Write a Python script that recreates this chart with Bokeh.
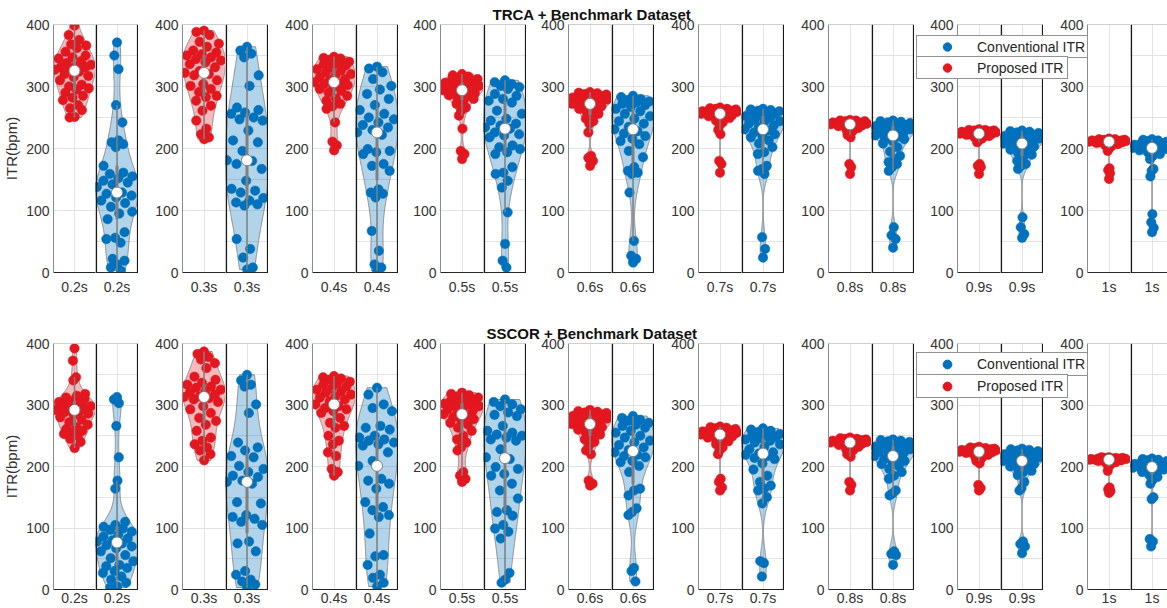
import numpy as np
from bokeh.plotting import figure
from bokeh.models import (Range1d, FixedTicker, Span, Legend, LegendItem, GridBox)
from bokeh.embed import file_html
from bokeh.resources import INLINE

# ---------------- text ----------------
durations = ["0.2s", "0.3s", "0.4s", "0.5s", "0.6s", "0.7s", "0.8s", "0.9s", "1s"]
row_titles = ["TRCA + Benchmark Dataset", "SSCOR + Benchmark Dataset"]
legend_labels = ["Conventional ITR", "Proposed ITR"]
y_label = "ITR(bpm)"
y_ticks = [0, 100, 200, 300, 400]
y_ticks_right = [0, 50, 100, 150, 200, 250, 300, 350, 400]

# ---------------- data: TRCA, proposed ITR ----------------
trca_prop_02 = [398, 383, 375, 368, 366, 362, 356, 350, 347, 345, 341, 338, 335, 333, 331, 331, 329, 327, 324, 320, 317, 315, 310, 303, 300, 297, 295, 290, 285, 282, 278, 270, 265, 262, 251, 250]
trca_prop_03 = [390, 388, 383, 372, 369, 364, 358, 355, 352, 350, 347, 344, 342, 339, 336, 331, 325, 322, 320, 318, 310, 304, 301, 296, 291, 285, 283, 277, 269, 261, 245, 232, 223, 218, 215]
trca_prop_04 = [348, 346, 345, 343, 340, 338, 336, 334, 331, 328, 326, 323, 320, 318, 315, 312, 310, 307, 305, 304, 302, 299, 296, 293, 290, 285, 281, 277, 272, 268, 264, 242, 211, 205, 197]
trca_prop_05 = [320, 318, 316, 314, 312, 310, 310, 309, 307, 306, 304, 302, 301, 300, 298, 296, 295, 294, 293, 291, 289, 288, 286, 285, 283, 280, 277, 272, 266, 261, 253, 232, 196, 191, 183]
trca_prop_06 = [291, 290, 289, 288, 287, 286, 285, 284, 283, 282, 281, 280, 279, 278, 277, 276, 274, 272, 271, 270, 268, 266, 264, 262, 260, 256, 252, 248, 244, 240, 226, 188, 185, 180, 172]
trca_prop_07 = [266, 265, 264, 264, 263, 262, 262, 261, 261, 260, 260, 259, 259, 258, 258, 257, 257, 256, 256, 255, 254, 253, 252, 251, 250, 249, 247, 245, 242, 237, 230, 223, 180, 175, 161]
trca_prop_08 = [246, 245, 245, 244, 244, 243, 243, 242, 242, 242, 241, 241, 240, 240, 240, 239, 239, 239, 238, 238, 237, 237, 236, 235, 234, 233, 232, 230, 228, 225, 222, 218, 175, 170, 159]
trca_prop_09 = [231, 230, 230, 229, 229, 228, 228, 228, 227, 227, 227, 226, 226, 226, 225, 225, 225, 224, 224, 224, 223, 223, 222, 222, 221, 220, 219, 218, 216, 213, 210, 175, 172, 170, 159]
trca_prop_10 = [216, 215, 215, 214, 214, 214, 213, 213, 213, 213, 212, 212, 212, 212, 211, 211, 211, 211, 210, 210, 210, 209, 209, 208, 208, 207, 206, 205, 203, 200, 196, 168, 165, 160, 151]

# ---------------- data: TRCA, conventional ITR ----------------
trca_conv_02 = [371, 350, 328, 270, 242, 213, 210, 207, 202, 172, 161, 159, 155, 152, 148, 145, 142, 138, 129, 127, 124, 121, 116, 112, 106, 98, 95, 86, 65, 56, 54, 48, 22, 19, 13, 8, 3]
trca_conv_03 = [364, 358, 353, 347, 318, 301, 266, 262, 258, 256, 250, 247, 245, 229, 213, 210, 196, 181, 180, 175, 167, 148, 135, 132, 129, 120, 116, 113, 110, 108, 54, 38, 24, 8, 5]
trca_conv_04 = [332, 329, 323, 312, 301, 295, 288, 280, 270, 262, 256, 250, 247, 242, 238, 234, 230, 226, 222, 199, 196, 194, 191, 175, 172, 164, 134, 129, 127, 121, 67, 35, 13, 8, 3]
trca_conv_05 = [310, 307, 304, 301, 299, 296, 288, 285, 280, 277, 274, 261, 256, 248, 245, 240, 237, 234, 232, 226, 223, 221, 218, 205, 202, 199, 194, 191, 170, 161, 159, 148, 137, 97, 46, 19, 8]
trca_conv_06 = [285, 283, 280, 278, 276, 274, 272, 270, 267, 264, 260, 256, 252, 248, 244, 240, 235, 231, 228, 224, 220, 216, 212, 207, 196, 186, 170, 164, 161, 159, 129, 51, 27, 22, 16]
trca_conv_07 = [264, 263, 262, 261, 260, 258, 257, 256, 254, 252, 249, 246, 244, 243, 240, 237, 234, 231, 229, 226, 223, 220, 218, 213, 208, 202, 194, 191, 172, 167, 164, 159, 57, 38, 24]
trca_conv_08 = [245, 244, 243, 242, 241, 240, 239, 238, 237, 236, 235, 233, 231, 229, 227, 225, 223, 221, 219, 217, 215, 212, 208, 202, 195, 188, 183, 178, 175, 170, 164, 73, 60, 54, 40]
trca_conv_09 = [229, 228, 227, 226, 225, 224, 223, 222, 221, 220, 219, 218, 216, 214, 212, 210, 209, 208, 207, 205, 203, 200, 198, 196, 193, 190, 186, 180, 175, 172, 167, 89, 73, 62, 56]
trca_conv_10 = [215, 214, 213, 212, 211, 210, 209, 208, 207, 206, 205, 205, 204, 203, 203, 202, 202, 201, 201, 200, 199, 198, 197, 195, 193, 191, 188, 183, 167, 164, 155, 94, 81, 72, 65]

# ---------------- data: SSCOR, proposed ITR ----------------
sscor_prop_02 = [392, 372, 345, 340, 318, 315, 312, 310, 307, 305, 302, 300, 298, 296, 295, 294, 293, 292, 290, 288, 286, 284, 280, 276, 272, 268, 264, 261, 258, 256, 253, 250, 245, 240, 230]
sscor_prop_03 = [387, 383, 378, 374, 368, 360, 346, 341, 336, 333, 330, 328, 325, 322, 320, 317, 314, 313, 311, 309, 305, 298, 293, 287, 279, 274, 268, 258, 247, 242, 236, 231, 226, 220, 210]
sscor_prop_04 = [347, 345, 343, 341, 338, 335, 333, 330, 327, 325, 322, 320, 317, 314, 312, 309, 306, 301, 298, 295, 293, 290, 287, 279, 271, 266, 263, 250, 242, 236, 223, 217, 196, 191, 185]
sscor_prop_05 = [320, 318, 316, 314, 312, 310, 308, 306, 304, 302, 301, 299, 298, 296, 293, 290, 288, 285, 283, 280, 277, 274, 271, 268, 263, 258, 250, 244, 239, 231, 226, 191, 185, 180, 175]
sscor_prop_06 = [292, 290, 289, 288, 287, 286, 285, 284, 283, 282, 280, 279, 278, 276, 275, 273, 271, 269, 268, 266, 264, 262, 260, 258, 255, 252, 248, 244, 240, 234, 226, 220, 177, 172, 169]
sscor_prop_07 = [265, 264, 263, 262, 261, 260, 260, 259, 258, 257, 256, 255, 255, 254, 253, 253, 252, 252, 251, 250, 249, 248, 247, 245, 243, 241, 239, 236, 231, 226, 220, 180, 175, 166, 161]
sscor_prop_08 = [247, 246, 245, 245, 244, 244, 243, 243, 242, 242, 241, 241, 240, 240, 240, 239, 239, 239, 238, 238, 237, 236, 235, 234, 233, 232, 230, 228, 226, 224, 220, 216, 175, 170, 161]
sscor_prop_09 = [232, 231, 230, 230, 229, 229, 228, 228, 227, 227, 227, 226, 226, 225, 225, 225, 224, 224, 224, 223, 223, 222, 222, 221, 220, 219, 218, 216, 214, 212, 209, 205, 170, 165, 161]
sscor_prop_10 = [215, 215, 214, 214, 214, 213, 213, 213, 213, 212, 212, 212, 212, 211, 211, 211, 211, 211, 210, 210, 210, 209, 209, 208, 208, 207, 206, 205, 203, 200, 193, 166, 163, 160, 157]

# ---------------- data: SSCOR, conventional ITR ----------------
sscor_conv_02 = [313, 309, 303, 266, 215, 177, 164, 110, 105, 102, 99, 97, 94, 89, 86, 83, 80, 78, 75, 72, 70, 67, 62, 56, 51, 46, 40, 38, 35, 30, 27, 21, 16, 11, 5, 3]
sscor_conv_03 = [349, 340, 333, 330, 301, 287, 239, 231, 226, 217, 215, 201, 196, 191, 185, 183, 177, 175, 172, 142, 140, 121, 118, 115, 110, 105, 78, 75, 62, 30, 24, 16, 13, 8, 3]
sscor_conv_04 = [328, 317, 301, 295, 290, 266, 263, 260, 250, 247, 244, 242, 239, 236, 234, 223, 209, 201, 180, 177, 172, 164, 142, 134, 129, 121, 118, 91, 56, 54, 40, 24, 19, 11, 5]
sscor_conv_05 = [309, 305, 301, 298, 293, 288, 284, 282, 266, 258, 255, 252, 250, 247, 244, 242, 228, 215, 212, 199, 196, 188, 185, 172, 161, 148, 129, 126, 120, 105, 99, 94, 83, 27, 16, 11]
sscor_conv_06 = [282, 279, 276, 274, 271, 268, 266, 263, 258, 255, 250, 247, 242, 239, 235, 231, 227, 223, 219, 217, 215, 209, 207, 201, 191, 164, 161, 153, 132, 126, 121, 35, 30, 13]
sscor_conv_07 = [262, 260, 258, 256, 253, 252, 250, 248, 246, 244, 242, 239, 236, 232, 228, 223, 221, 219, 217, 214, 212, 205, 195, 185, 175, 169, 164, 161, 150, 140, 46, 43, 21]
sscor_conv_08 = [244, 243, 242, 241, 240, 239, 238, 236, 234, 232, 231, 229, 228, 226, 224, 222, 219, 217, 215, 212, 209, 207, 204, 201, 196, 191, 185, 180, 161, 156, 153, 62, 58, 56, 40]
sscor_conv_09 = [229, 228, 227, 226, 225, 224, 223, 222, 221, 220, 218, 217, 215, 213, 212, 211, 210, 209, 208, 206, 204, 202, 200, 198, 196, 193, 191, 186, 175, 165, 161, 78, 74, 70, 59]
sscor_conv_10 = [213, 212, 211, 210, 209, 208, 207, 206, 205, 204, 203, 202, 201, 200, 200, 199, 199, 198, 197, 196, 195, 193, 191, 189, 186, 183, 178, 172, 150, 147, 82, 78, 70]

proposed = [
    [trca_prop_02, trca_prop_03, trca_prop_04, trca_prop_05, trca_prop_06, trca_prop_07, trca_prop_08, trca_prop_09, trca_prop_10],
    [sscor_prop_02, sscor_prop_03, sscor_prop_04, sscor_prop_05, sscor_prop_06, sscor_prop_07, sscor_prop_08, sscor_prop_09, sscor_prop_10],
]
conventional = [
    [trca_conv_02, trca_conv_03, trca_conv_04, trca_conv_05, trca_conv_06, trca_conv_07, trca_conv_08, trca_conv_09, trca_conv_10],
    [sscor_conv_02, sscor_conv_03, sscor_conv_04, sscor_conv_05, sscor_conv_06, sscor_conv_07, sscor_conv_08, sscor_conv_09, sscor_conv_10],
]

# ---------------- style / layout ----------------
FONT = "Liberation Sans"
RED = "#E3171F"
BLUE = "#0072BD"
EDGE = "#8a8a8a"
BOXC = "#808080"
GRID = "#e3e3e3"
DARK = "#262626"
TXT = "#333333"
SEP = "#1a1a1a"
PANEL_LEFT = [52, 182, 312, 440, 568, 698, 828, 957, 1087]
COLW = 43
W_TOTAL = 1167
ROW_H = [319, 289]
TOP_B = [24, 24]
BOT_B = [47, 18]
XSTAND = [6, 0]
TITLE_LEFT = [491, 485]
LEG_X = 915
LEG_TOP = [[37, 58], [36, 58]]
LEG_H = [21, 22]
HALF = 0.5


def violin(vals, n=240):
    v = np.asarray(vals, float)
    N = len(v)
    med = np.median(v)
    sig = np.median(np.abs(v - med)) / 0.6745
    if sig <= 0:
        sig = max((v.max() - v.min()) / 4.0, 1.0)
    bw = sig * (4.0 / (3.0 * N)) ** 0.2
    ys = np.linspace(v.min(), v.max(), n)
    dens = np.exp(-0.5 * ((ys[:, None] - v[None, :]) / bw) ** 2).sum(axis=1)
    w = dens / dens.max() * HALF
    return ys, w


def stats(vals):
    v = np.asarray(vals, float)
    q1, med, q3 = np.percentile(v, [25, 50, 75])
    iqr = q3 - q1
    lo = v[v >= q1 - 1.5 * iqr].min()
    hi = v[v <= q3 + 1.5 * iqr].max()
    return q1, med, q3, lo, hi


def make_col(vals, kind, i, r):
    left = PANEL_LEFT[i]
    prev_right = 0 if i == 0 else PANEL_LEFT[i - 1] + 2 * COLW
    color = RED if kind == "prop" else BLUE
    if kind == "prop":
        bl = left - prev_right
        fw = COLW
    else:
        bl = 0
        fw = min(COLW, W_TOTAL - (left + COLW))
    xmax = fw / COLW
    px1 = 1.0 / COLW  # one pixel in data units
    p = figure(width=bl + fw, height=ROW_H[r], x_range=Range1d(0, xmax), y_range=Range1d(0, 400),
               output_backend="svg", toolbar_location=None,
               min_border_left=bl, min_border_right=0, min_border_top=TOP_B[r],
               min_border_bottom=BOT_B[r],
               y_axis_location="left" if kind == "prop" else None,
               outline_line_color=None, background_fill_color="white", border_fill_color="white")
    xa = p.xaxis[0]
    xa.ticker = FixedTicker(ticks=[0.5])
    xa.major_label_overrides = {0.5: durations[i]}
    xa.major_label_text_font = FONT
    xa.major_label_text_font_size = "14px"
    xa.major_label_text_color = TXT
    xa.major_label_standoff = XSTAND[r]
    xa.major_tick_in = 0
    xa.major_tick_out = 0
    xa.minor_tick_line_color = None
    xa.axis_line_color = DARK
    p.xgrid.grid_line_color = GRID
    p.ygrid.grid_line_color = GRID
    if kind == "prop":
        ya = p.yaxis[0]
        ya.ticker = FixedTicker(ticks=y_ticks)
        ya.major_label_text_font = FONT
        ya.major_label_text_font_size = "14px"
        ya.major_label_text_color = TXT
        ya.major_label_standoff = 4
        ya.major_tick_in = 0
        ya.major_tick_out = 0
        ya.minor_tick_line_color = None
        ya.axis_line_color = "#8c8c8c"
        if i == 0:
            ya.axis_label = y_label
            ya.axis_label_text_font = FONT
            ya.axis_label_text_font_size = "15px"
            ya.axis_label_text_font_style = "normal"
            ya.axis_label_text_color = TXT
            ya.axis_label_standoff = 3
    else:
        p.ygrid[0].ticker = FixedTicker(ticks=y_ticks_right)
        p.add_layout(Span(location=0.8 * px1, dimension="height", line_color=SEP, line_width=1.6))
        if xmax >= 1:
            p.add_layout(Span(location=1 - 0.8 * px1, dimension="height", line_color=SEP, line_width=1.6))
    p.add_layout(Span(location=400, dimension="width", line_color="#a0a0a0", line_width=1))

    ys, w = violin(vals)
    vx = np.concatenate([0.5 + w, (0.5 - w)[::-1]])
    vy = np.concatenate([ys, ys[::-1]])
    p.patch(vx, vy, fill_color=color, fill_alpha=0.3, line_color=EDGE, line_width=1)

    v = np.asarray(vals, float)
    k = np.arange(len(v))
    jit = 2.0 * ((0.5 + k * 0.6180339887) % 1.0) - 1.0
    xs = 0.5 + jit * np.interp(v, ys, w) * 0.95
    p.scatter(xs, v, size=9.5, fill_color=color, line_color=color, line_width=0.5)

    q1, med, q3, lo, hi = stats(vals)
    p.segment(x0=[0.5], y0=[lo], x1=[0.5], y1=[hi], line_color=BOXC, line_width=1.5)
    p.segment(x0=[0.5], y0=[q1], x1=[0.5], y1=[q3], line_color=BOXC, line_width=3)
    p.scatter([0.5], [med], size=11, fill_color="white", line_color=BOXC, line_width=1)
    return p


def make_overlay(r):
    # Bokeh aligns this frame with the row's frames: left edge at PANEL_LEFT[0],
    # top at TOP_B, bottom at ROW_H - BOT_B.
    H = ROW_H[r]
    fb = H - BOT_B[r]
    ov = figure(width=W_TOTAL, height=H, x_range=Range1d(PANEL_LEFT[0], W_TOTAL),
                y_range=Range1d(fb, TOP_B[r]), title=row_titles[r],
                output_backend="svg", toolbar_location=None, min_border=0,
                x_axis_location=None, y_axis_location=None, outline_line_color=None,
                background_fill_alpha=0, border_fill_alpha=0)
    ov.title.align = "left"
    ov.title.offset = TITLE_LEFT[r] - PANEL_LEFT[0]
    ov.title.text_font = FONT
    ov.title.text_font_size = "15px"
    ov.title.text_font_style = "bold"
    ov.title.text_color = "#111111"
    ov.title.standoff = 4
    ov.xgrid.visible = False
    ov.ygrid.visible = False
    # legend-only renderers (NaN position: not drawn in the plot area)
    rc = ov.scatter(x=[np.nan], y=[np.nan], size=10, fill_color=BLUE, line_color=BLUE)
    rp = ov.scatter(x=[np.nan], y=[np.nan], size=10, fill_color=RED, line_color=RED)
    lw = [110, 90]
    for kk, (lbl, rend) in enumerate([(legend_labels[0], rc), (legend_labels[1], rp)]):
        bottom = LEG_TOP[r][kk] + LEG_H[r]
        lg = Legend(items=[LegendItem(label=lbl, renderers=[rend])],
                    location=(LEG_X - PANEL_LEFT[0], fb - bottom), orientation="vertical",
                    padding=0, spacing=0, margin=0,
                    glyph_width=60, glyph_height=LEG_H[r], label_height=LEG_H[r],
                    label_width=lw[kk], label_standoff=0,
                    label_text_font=FONT, label_text_font_size="14px", label_text_color=DARK,
                    border_line_color=DARK, border_line_width=1,
                    background_fill_color="white", background_fill_alpha=1)
        ov.add_layout(lg)
    return ov


children = []
for r in range(2):
    c = 0
    for i in range(9):
        children.append((make_col(proposed[r][i], "prop", i, r), r, c))
        c += 1
        children.append((make_col(conventional[r][i], "conv", i, r), r, c))
        c += 1
    children.append((make_overlay(r), r, 0, 1, 18))

layout = GridBox(children=children, spacing=0)

open("out.html", "w").write(file_html(layout, INLINE))
